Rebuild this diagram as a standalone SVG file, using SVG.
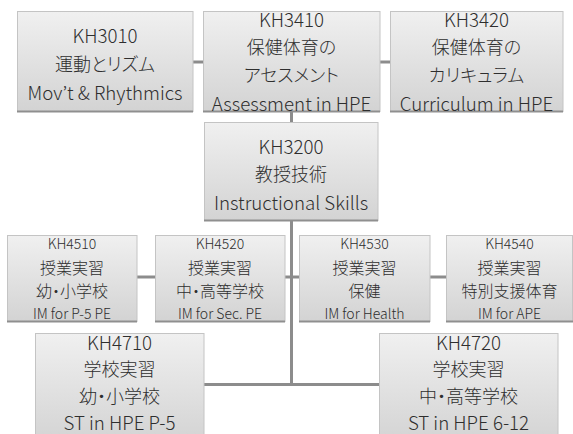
<svg xmlns="http://www.w3.org/2000/svg" width="573" height="434" viewBox="0 0 573 434">
<defs>
<linearGradient id="g" x1="0" y1="0" x2="0" y2="1">
<stop offset="0" stop-color="#f0f0f0"/>
<stop offset="1" stop-color="#d3d3d3"/>
</linearGradient>
<style>
.box{fill:url(#g);stroke:#c4c4c4;stroke-width:1}
.base{stroke:#8f8f8f;stroke-width:2}
.c{stroke:#8c8c8c;stroke-width:3;fill:none}
text{font-family:"Noto Sans CJK JP","Noto Sans",sans-serif;font-weight:300;fill:#2e2e2e;text-anchor:middle;dominant-baseline:central;font-feature-settings:"palt"}
.l{font-size:18.7px}
.s{font-size:14px}
.sj{font-size:16px}
.lj{font-size:18px}
</style>
</defs>
<rect width="573" height="434" fill="#fff"/>
<g id="connectors">
<line class="c" x1="193" y1="62" x2="203" y2="62"/>
<line class="c" x1="380" y1="62" x2="390" y2="62"/>
<line class="c" x1="291.5" y1="112" x2="291.5" y2="122"/>
<line class="c" x1="291.5" y1="221" x2="291.5" y2="386"/>
<line class="c" x1="137" y1="277" x2="155" y2="277"/>
<line class="c" x1="285" y1="277" x2="299" y2="277"/>
<line class="c" x1="430" y1="277" x2="446" y2="277"/>
<line class="c" x1="204" y1="384.5" x2="379" y2="384.5"/>
</g>
<g id="KH3010">
<rect class="box" x="17.5" y="11.5" width="175.5" height="100"/>
<line class="base" x1="17" y1="111.5" x2="193" y2="111.5"/>
<text class="l" x="105" y="34">KH3010</text>
<text class="lj" x="105" y="63">運動とリズム</text>
<text class="l" x="105" y="91">Mov’t &amp; Rhythmics</text>
</g>
<g id="KH3410">
<rect class="box" x="203.5" y="11.5" width="176.5" height="100"/>
<line class="base" x1="203" y1="111.5" x2="380" y2="111.5"/>
<text class="l" x="291.5" y="18">KH3410</text>
<text class="lj" x="291.5" y="46">保健体育の</text>
<text class="lj" x="291.5" y="74">アセスメント</text>
<text class="l" x="291.5" y="102">Assessment in HPE</text>
</g>
<g id="KH3420">
<rect class="box" x="390.5" y="11.5" width="172.5" height="100"/>
<line class="base" x1="390" y1="111.5" x2="563" y2="111.5"/>
<text class="l" x="476.5" y="18">KH3420</text>
<text class="lj" x="476.5" y="46">保健体育の</text>
<text class="lj" x="476.5" y="74">カリキュラム</text>
<text class="l" x="476.5" y="102">Curriculum in HPE</text>
</g>
<g id="KH3200">
<rect class="box" x="204.5" y="122.5" width="173.5" height="98"/>
<line class="base" x1="204" y1="220.5" x2="378" y2="220.5"/>
<text class="l" x="291" y="145">KH3200</text>
<text class="lj" x="291" y="173">教授技術</text>
<text class="l" x="291" y="201">Instructional Skills</text>
</g>
<g id="KH4510">
<rect class="box" x="7.5" y="235.5" width="129.5" height="86"/>
<line class="base" x1="7" y1="321.5" x2="137" y2="321.5"/>
<text class="s" x="72" y="243">KH4510</text>
<text class="sj" x="72" y="267">授業実習</text>
<text class="sj" x="72" y="290">幼・小学校</text>
<text class="s" x="72" y="313">IM for P-5 PE</text>
</g>
<g id="KH4520">
<rect class="box" x="155.5" y="235.5" width="129.5" height="86"/>
<line class="base" x1="155" y1="321.5" x2="285" y2="321.5"/>
<text class="s" x="220" y="243">KH4520</text>
<text class="sj" x="220" y="267">授業実習</text>
<text class="sj" x="220" y="290">中・高等学校</text>
<text class="s" x="220" y="313">IM for Sec. PE</text>
</g>
<g id="KH4530">
<rect class="box" x="299.5" y="235.5" width="130.5" height="86"/>
<line class="base" x1="299" y1="321.5" x2="430" y2="321.5"/>
<text class="s" x="364.5" y="243">KH4530</text>
<text class="sj" x="364.5" y="267">授業実習</text>
<text class="sj" x="364.5" y="290">保健</text>
<text class="s" x="364.5" y="313">IM for Health</text>
</g>
<g id="KH4540">
<rect class="box" x="446.5" y="235.5" width="126" height="86"/>
<line class="base" x1="446" y1="321.5" x2="573" y2="321.5"/>
<text class="s" x="509.5" y="243">KH4540</text>
<text class="sj" x="509.5" y="267">授業実習</text>
<text class="sj" x="509.5" y="290">特別支援体育</text>
<text class="s" x="509.5" y="313">IM for APE</text>
</g>
<g id="KH4710">
<rect class="box" x="35.5" y="333.5" width="168.5" height="110"/>
<text class="l" x="119.5" y="341">KH4710</text>
<text class="lj" x="119.5" y="368">学校実習</text>
<text class="lj" x="119.5" y="395">幼・小学校</text>
<text class="l" x="119.5" y="421">ST in HPE P-5</text>
</g>
<g id="KH4720">
<rect class="box" x="379.5" y="333.5" width="178.5" height="110"/>
<text class="l" x="468.5" y="341">KH4720</text>
<text class="lj" x="468.5" y="368">学校実習</text>
<text class="lj" x="468.5" y="395">中・高等学校</text>
<text class="l" x="468.5" y="421">ST in HPE 6-12</text>
</g>
</svg>
